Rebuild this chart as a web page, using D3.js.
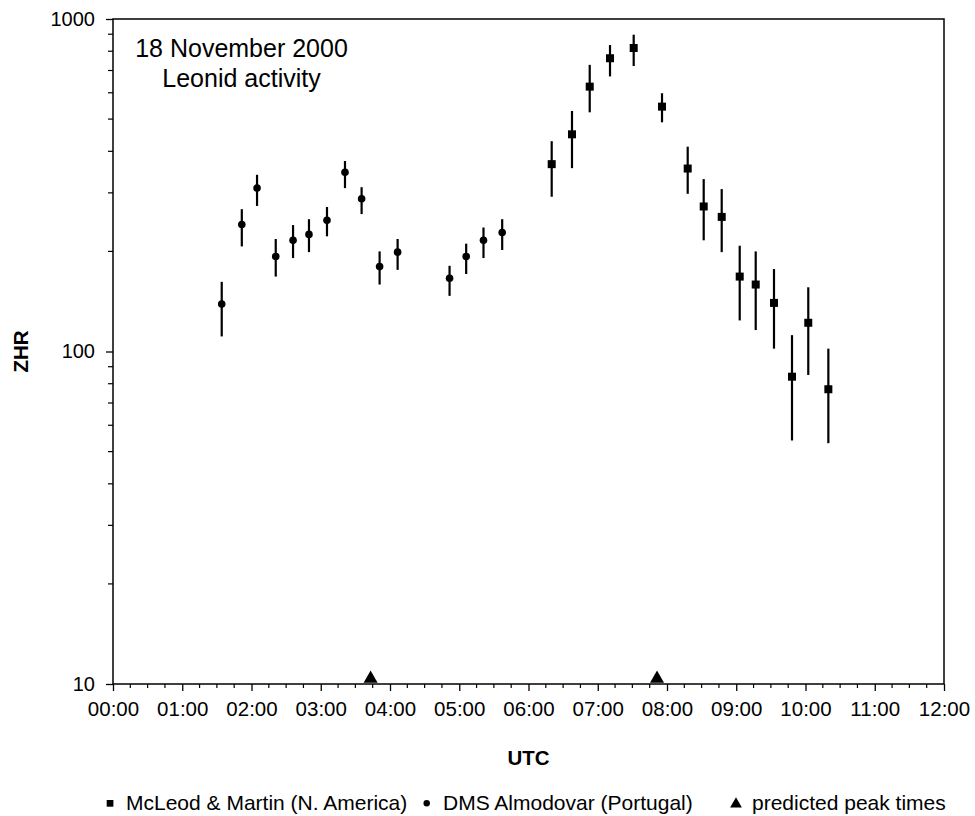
<!DOCTYPE html>
<html>
<head>
<meta charset="utf-8">
<script src="https://cdn.jsdelivr.net/npm/d3@7"></script>
<style>
  html, body { margin: 0; padding: 0; background: #fff; }
  svg { display: block; font-family: "Liberation Sans", Arial, sans-serif; }
</style>
</head>
<body>
<svg id="chart" width="975" height="816"></svg>
<script>
// ---- data ----
const hourTicks = [0,1,2,3,4,5,6,7,8,9,10,11,12];
const hourLabels = ["00:00","01:00","02:00","03:00","04:00","05:00","06:00","07:00","08:00","09:00","10:00","11:00","12:00"];
const zhrTicks = [10, 100, 1000];
const zhrLabels = ["10", "100", "1000"];

// DMS Almodovar (Portugal) - circles
const dmsTime = [1.57, 1.86, 2.08, 2.35, 2.60, 2.83, 3.09, 3.35, 3.59, 3.85, 4.11, 4.86, 5.10, 5.35, 5.62];
const dmsZHR  = [139, 241, 310, 193, 216, 225, 248, 346, 288, 180, 199, 166, 193, 216, 228];
const dmsLow  = [111, 207, 274, 168, 191, 199, 222, 310, 259, 159, 176, 147, 171, 191, 202];
const dmsHigh = [162, 268, 340, 218, 240, 250, 272, 374, 312, 200, 218, 181, 211, 236, 250];

// McLeod & Martin (N. America) - squares
const mmTime = [6.335, 6.628, 6.884, 7.177, 7.519, 7.928, 8.299, 8.530, 8.790, 9.050, 9.281, 9.545, 9.805, 10.040, 10.330];
const mmZHR  = [366, 450, 626, 762, 818, 545, 355, 273, 254, 168, 159, 140, 84, 122, 77];
const mmLow  = [292, 356, 524, 672, 722, 489, 298, 216, 199, 124, 116, 102, 54, 85, 53];
const mmHigh = [429, 529, 728, 835, 897, 598, 413, 330, 308, 208, 200, 177, 112, 156, 102];

// predicted peak times - triangles
const peakTimes = [3.72, 7.856];
const peakLevel = [10.45, 10.45];

const titleLines = ["18 November 2000", "Leonid activity"];
const legendItems = ["McLeod & Martin (N. America)", "DMS Almodovar (Portugal)", "predicted peak times"];

// ---- layout ----
const L = 113, R = 944, T = 19, B = 684;
const svg = d3.select("#chart");
const x = d3.scaleLinear().domain([0, 12]).range([L, R]);
const y = d3.scaleLog().domain([10, 1000]).range([B, T]);

// minor ticks
const xMinor = d3.range(0, 12.001, 0.25).filter(v => Math.abs(v - Math.round(v)) > 1e-6);
const yMinor = [];
[10, 100].forEach(d => { for (let k = 2; k <= 9; k++) yMinor.push(d * k); });

const g = svg.append("g");

// x axis
const xAxis = d3.axisBottom(x).tickValues(hourTicks).tickFormat((d, i) => hourLabels[i]).tickSize(7).tickPadding(10).tickSizeOuter(0);
const gx = g.append("g").attr("transform", `translate(0,${B})`).call(xAxis);
gx.selectAll("text").attr("font-size", 20.5).attr("font-family", '"Liberation Sans", Arial, sans-serif').attr("fill", "#000");
gx.selectAll("line").attr("stroke", "#000").attr("stroke-width", 1.3);
gx.select(".domain").remove();
g.append("g").selectAll("line").data(xMinor).join("line")
  .attr("x1", d => x(d)).attr("x2", d => x(d)).attr("y1", B).attr("y2", B + 4)
  .attr("stroke", "#000").attr("stroke-width", 1.2);

// y axis
const yAxis = d3.axisLeft(y).tickValues(zhrTicks).tickFormat((d, i) => zhrLabels[i]).tickSize(7).tickPadding(11).tickSizeOuter(0);
const gy = g.append("g").attr("transform", `translate(${L},0)`).call(yAxis);
gy.selectAll("text").attr("font-size", 20).attr("font-family", '"Liberation Sans", Arial, sans-serif').attr("fill", "#000");
gy.selectAll("line").attr("stroke", "#000").attr("stroke-width", 1.3);
gy.select(".domain").remove();
g.append("g").selectAll("line").data(yMinor).join("line")
  .attr("x1", L - 5).attr("x2", L).attr("y1", d => y(d)).attr("y2", d => y(d))
  .attr("stroke", "#000").attr("stroke-width", 1.2);

// frame
g.append("rect").attr("x", L).attr("y", T).attr("width", R - L).attr("height", B - T)
  .attr("fill", "none").attr("stroke", "#000").attr("stroke-width", 1.5);

// error bars
const dms = dmsTime.map((t, i) => ({t, v: dmsZHR[i], lo: dmsLow[i], hi: dmsHigh[i]}));
const mm = mmTime.map((t, i) => ({t, v: mmZHR[i], lo: mmLow[i], hi: mmHigh[i]}));
g.append("g").selectAll("line").data(dms.concat(mm)).join("line")
  .attr("x1", d => x(d.t)).attr("x2", d => x(d.t))
  .attr("y1", d => y(d.lo)).attr("y2", d => y(d.hi))
  .attr("stroke", "#000").attr("stroke-width", 2.2);

// circles
g.append("g").selectAll("circle").data(dms).join("circle")
  .attr("cx", d => x(d.t)).attr("cy", d => y(d.v)).attr("r", 3.8).attr("fill", "#000");

// squares
const sq = 8;
g.append("g").selectAll("rect").data(mm).join("rect")
  .attr("x", d => x(d.t) - sq / 2).attr("y", d => y(d.v) - sq / 2)
  .attr("width", sq).attr("height", sq).attr("fill", "#000");

// triangles
const tri = d3.symbol().type(d3.symbolTriangle).size(85);
g.append("g").selectAll("path").data(peakTimes).join("path")
  .attr("transform", (d, i) => `translate(${x(d)},${y(peakLevel[i]) + 1})`)
  .attr("d", tri).attr("fill", "#000");

// title
svg.append("text").attr("x", 241.5).attr("y", 57).attr("text-anchor", "middle")
  .attr("font-size", 25).text(titleLines[0]);
svg.append("text").attr("x", 241.5).attr("y", 87).attr("text-anchor", "middle")
  .attr("font-size", 25).text(titleLines[1]);

// axis titles
svg.append("text").attr("x", (L + R) / 2).attr("y", 765).attr("text-anchor", "middle")
  .attr("font-size", 20.5).attr("font-weight", "bold").text("UTC");
svg.append("text").attr("transform", `translate(28,${(T + B) / 2}) rotate(-90)`)
  .attr("text-anchor", "middle").attr("font-size", 20.5).attr("font-weight", "bold").text("ZHR");

// legend
const lg = svg.append("g");
lg.append("rect").attr("x", 106.7).attr("y", 800).attr("width", 6.7).attr("height", 6.7).attr("fill", "#000");
lg.append("text").attr("x", 126).attr("y", 810).attr("font-size", 21).text(legendItems[0]);
lg.append("circle").attr("cx", 426.7).attr("cy", 803.3).attr("r", 3.2).attr("fill", "#000");
lg.append("text").attr("x", 443).attr("y", 810).attr("font-size", 21).text(legendItems[1]);
lg.append("path").attr("transform", "translate(736,804)").attr("d", d3.symbol().type(d3.symbolTriangle).size(60)).attr("fill", "#000");
lg.append("text").attr("x", 752).attr("y", 810).attr("font-size", 21).text(legendItems[2]);
</script>
</body>
</html>
